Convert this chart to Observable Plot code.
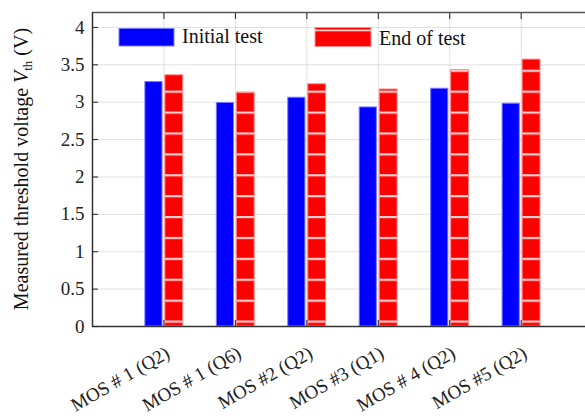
<!DOCTYPE html>
<html>
<head>
<meta charset="utf-8">
<script src="https://cdn.jsdelivr.net/npm/d3@7"></script>
<script src="https://cdn.jsdelivr.net/npm/@observablehq/plot@0.6"></script>
<style>
  html, body { margin: 0; padding: 0; background: #fff; }
  #chart { position: relative; width: 585px; height: 419px; }
  #chart svg, #chart svg text { font-family: "Liberation Serif", "DejaVu Serif", serif !important; }
</style>
</head>
<body>
<div id="chart"></div>
<script>
const categories = ["MOS # 1 (Q2)", "MOS # 1 (Q6)", "MOS #2 (Q2)", "MOS #3 (Q1)", "MOS # 4 (Q2)", "MOS #5 (Q2)"];
const initialTest = [3.27, 2.99, 3.06, 2.93, 3.18, 2.98];
const endOfTest = [3.36, 3.13, 3.24, 3.17, 3.43, 3.57];
const yTicks = [0, 0.5, 1, 1.5, 2, 2.5, 3, 3.5, 4];
const yTickLabels = ["0", "0.5", "1", "1.5", "2", "2.5", "3", "3.5", "4"];
const seriesNames = ["Initial test", "End of test"];

const xPos = categories.map((_, i) => i + 1);
const blueData = categories.map((c, i) => ({pos: i + 1, v: initialTest[i]}));
const redData = categories.map((c, i) => ({pos: i + 1, v: endOfTest[i]}));

const font = "Liberation Serif";

const plot = Plot.plot({
  width: 585,
  height: 419,
  marginTop: 12,
  marginBottom: 93,
  marginLeft: 92,
  marginRight: 0,
  style: {fontSize: "19px", color: "#222", background: "#fff"},
  x: {type: "linear", domain: [0, 6.9], label: null},
  y: {domain: [0, 4.2], label: null},
  marks: [
    Plot.gridY(yTicks, {stroke: "#000", strokeOpacity: 0.12, strokeWidth: 1}),
    Plot.gridX(xPos, {stroke: "#000", strokeOpacity: 0.12, strokeWidth: 1}),
    Plot.rectY(blueData, {x1: d => d.pos - 0.26, x2: d => d.pos - 0.02, y1: 0, y2: "v", fill: "#0000ff", stroke: "#7a7aff", strokeWidth: 1, inset: 0}),
    Plot.rectY(redData, {x1: d => d.pos + 0.02, x2: d => d.pos + 0.27, y1: 0, y2: "v", fill: "#ff0000", stroke: "#ff8a8a", strokeWidth: 1, inset: 0, className: "redbars"}),
    Plot.ruleY([0], {stroke: "#333", strokeWidth: 1.5}),
    Plot.ruleY([4.2], {stroke: "#555", strokeWidth: 1.5}),
    Plot.ruleX([0], {stroke: "#333", strokeWidth: 1.5}),
    Plot.axisY({ticks: yTicks, tickFormat: (d) => yTickLabels[yTicks.indexOf(d)], tickSize: -6, tickPadding: 14, label: null, fontSize: 19}),
    Plot.axisX({anchor: "top", ticks: xPos, tickSize: -6, tickFormat: () => "", label: null}),
    Plot.axisX({anchor: "bottom", ticks: xPos, tickSize: -6, tickFormat: () => "", label: null}),
    Plot.axisX({anchor: "bottom", ticks: xPos, tickSize: 0, tickPadding: 25, tickRotate: -30, tickFormat: d => categories[d - 1], label: null, fontSize: 19, dx: 4})
  ]
});

document.getElementById("chart").appendChild(plot);

const svg = d3.select(plot);
const defs = svg.insert("defs", ":first-child");
const pat = defs.append("pattern")
  .attr("id", "redstripes")
  .attr("patternUnits", "userSpaceOnUse")
  .attr("x", 0).attr("y", 320.5)
  .attr("width", 20).attr("height", 20.9);
pat.append("rect").attr("x", 0).attr("y", 0).attr("width", 20).attr("height", 20.9).attr("fill", "#ff0000");
pat.append("rect").attr("x", 0).attr("y", 0).attr("width", 20).attr("height", 2.2).attr("fill", "#ffd0d0");
svg.selectAll(".redbars rect").attr("fill", "url(#redstripes)");

// y-axis label with italic V and subscript
const yl = svg.append("text")
  .attr("transform", "translate(28,169) rotate(-90)")
  .attr("text-anchor", "middle")
  .attr("font-family", font)
  .attr("font-size", "20px")
  .attr("fill", "#111");
yl.append("tspan").text("Measured threshold voltage ");
yl.append("tspan").attr("font-style", "italic").text("V");
yl.append("tspan").attr("font-size", "13px").attr("dy", "4").text("th");
yl.append("tspan").attr("dy", "-4").text(" (V)");

// legend
const lg = svg.append("g").attr("font-family", font).attr("font-size", "20px").attr("text-anchor", "start");
lg.append("rect").attr("x", 119).attr("y", 28.5).attr("width", 55).attr("height", 17.5).attr("fill", "#0000ff").attr("stroke", "#7a7aff");
lg.append("text").attr("x", 182).attr("y", 43).attr("fill", "#111").text(seriesNames[0]);
lg.append("rect").attr("x", 315).attr("y", 27.5).attr("width", 56).attr("height", 19).attr("fill", "#ff0000").attr("stroke", "#ff8a8a");
lg.append("rect").attr("x", 315).attr("y", 29.5).attr("width", 56).attr("height", 1.8).attr("fill", "#ffd0d0");
lg.append("text").attr("x", 379).attr("y", 45).attr("fill", "#111").text(seriesNames[1]);
</script>
</body>
</html>
